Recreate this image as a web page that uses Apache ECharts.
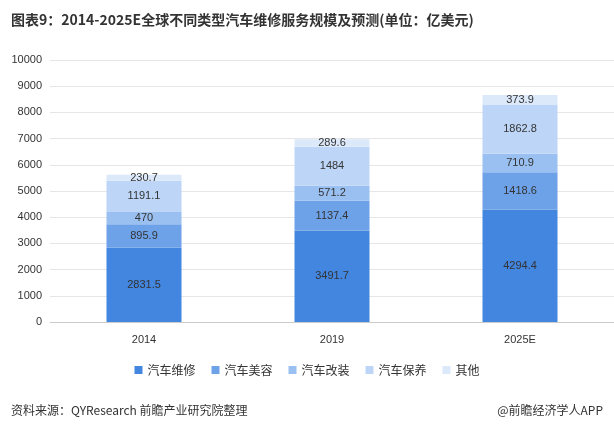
<!DOCTYPE html>
<html><head><meta charset="utf-8">
<script src="https://cdn.jsdelivr.net/npm/echarts@6/dist/echarts.min.js"></script>
<style>body{margin:0}#c{width:614px;height:428px}</style></head>
<body><div id="c"></div>
<script>
const categories=['2014','2019','2025E'];
const repair=[2831.5,3491.7,4294.4];
const beauty=[895.9,1137.4,1418.6];
const modify=[470,571.2,710.9];
const maintain=[1191.1,1484,1862.8];
const other=[230.7,289.6,373.9];
const names=['汽车维修','汽车美容','汽车改装','汽车保养','其他'];
const colors=['#4286e0','#6ea2e8','#9ac0f1','#bdd6f7','#dce9fb'];
const datas=[repair,beauty,modify,maintain,other];
const chart=echarts.init(document.getElementById('c'));
chart.setOption({
  title:[{text:'图表9：2014-2025E全球不同类型汽车维修服务规模及预测(单位：亿美元)',left:6,top:8,textStyle:{fontSize:14,fontWeight:'bold',color:'#333',fontFamily:'Noto Sans CJK SC'}},
    {text:'资料来源：QYResearch 前瞻产业研究院整理',left:6,top:399,textStyle:{fontSize:12,fontWeight:'normal',color:'#333',fontFamily:'Noto Sans CJK SC'}},
    {text:'@前瞻经济学人APP',right:6,top:399,textStyle:{fontSize:12,fontWeight:'normal',color:'#333',fontFamily:'Noto Sans CJK SC'}}],
  legend:{data:names,top:359,left:'center',itemWidth:8,itemHeight:8,icon:'rect',itemGap:16,textStyle:{fontSize:12,color:'#333',fontFamily:'Noto Sans CJK SC'}},
  grid:{left:50,right:0,top:60,bottom:106},
  xAxis:{type:'category',data:categories,axisTick:{show:false},axisLine:{lineStyle:{color:'#ccc'}},axisLabel:{color:'#333',fontSize:11,margin:12}},
  yAxis:{type:'value',min:0,max:10000,interval:1000,axisLabel:{color:'#333',fontSize:11,formatter:v=>String(v)},splitLine:{lineStyle:{color:'#e6e6e6'}}},
  series:datas.map((d,i)=>({name:names[i],type:'bar',stack:'a',data:d,barWidth:75,itemStyle:{color:colors[i]},
    label:{show:true,position:'inside',color:'#333',fontSize:11}}))
});
</script></body></html>
